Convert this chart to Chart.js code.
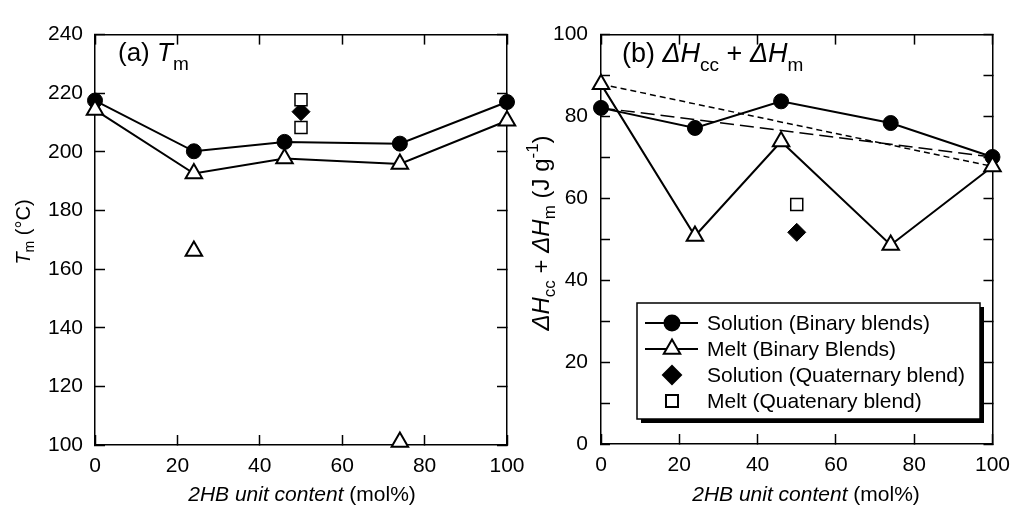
<!DOCTYPE html>
<html>
<head>
<meta charset="utf-8">
<script src="https://cdn.jsdelivr.net/npm/chart.js@4.4.0/dist/chart.umd.min.js"></script>
<style>
  body { margin: 0; background: #fff; }
  #wrap { position: relative; width: 1029px; height: 509px; overflow: hidden; }
  canvas { position: absolute; top: 0; }
</style>
</head>
<body>
<div id="wrap">
  <canvas id="tmChart" width="545" height="509" style="left:0"></canvas>
  <canvas id="dhChart" width="514" height="509" style="left:515px"></canvas>
</div>
<script>
// 2HB unit content (mol%)
const xContent = [0, 24, 46, 74, 100];
const quatX = [50];

// (a) Tm, degC
const tmSolution = [217.5, 200.2, 203.4, 202.8, 217.0];
const tmMelt = [214.3, 192.6, 197.7, 195.9, 210.6];
const tmMeltExtraX = [24, 74];
const tmMeltExtra = [166.2, 101.0];
const tmQuatSolution = [213.7];
const tmQuatMelt = [217.8, 208.3];

// (b) dHcc + dHm, J/g
const dhSolution = [82.1, 77.2, 83.7, 78.4, 70.1];
const dhMelt = [87.9, 50.8, 73.9, 48.6, 67.8];
const dhQuatSolution = [51.7];
const dhQuatMelt = [58.5];
const ruleX = [0, 100];
const dhMeltRule = [87.9, 67.8];
const dhSolutionRule = [82.1, 70.1];

const legendLabels = [
  "Solution (Binary blends)",
  "Melt (Binary Blends)",
  "Solution (Quaternary blend)",
  "Melt (Quatenary blend)"
];

const FONT = '"Liberation Sans", Arial, Helvetica, sans-serif';

function pts(xs, ys) {
  return ys.map((y, i) => ({ x: xs.length === 1 ? xs[0] : xs[i], y }));
}

// marker styles
const circle = { pointStyle: 'circle', pointRadius: 7.5, pointBackgroundColor: '#000', pointBorderColor: '#000', pointBorderWidth: 1 };
const triangle = { pointStyle: 'triangle', pointRadius: 9.5, pointBackgroundColor: '#fff', pointBorderColor: '#000', pointBorderWidth: 2 };
const diamond = { pointStyle: 'rectRot', pointRadius: 9, pointBackgroundColor: '#000', pointBorderColor: '#000', pointBorderWidth: 1 };
const square = { pointStyle: 'rect', pointRadius: 8.5, pointBackgroundColor: '#fff', pointBorderColor: '#000', pointBorderWidth: 1.5 };

function makeScales(yMin, yMax, yStep, yLabelEvery, tickLen, yWidth, xHeight) {
  const tickFont = { family: FONT, size: 21 };
  const border = { display: true, color: '#000', width: 1.5 };
  const grid = len => ({ drawOnChartArea: false, drawTicks: true, tickLength: -len, tickColor: '#000', tickWidth: 1.5 });
  return {
    x: {
      type: 'linear', position: 'bottom', min: 0, max: 100, border, grid: grid(10),
      ticks: { stepSize: 20, font: tickFont, color: '#000', padding: 19, maxRotation: 0, autoSkip: false },
      afterFit: s => { s.height = xHeight; }
    },
    x2: {
      type: 'linear', position: 'top', min: 0, max: 100, border, grid: grid(10),
      ticks: { stepSize: 20, display: false },
      afterFit: s => { s.height = 0; }
    },
    y: {
      type: 'linear', position: 'left', min: yMin, max: yMax, border, grid: grid(tickLen),
      ticks: {
        stepSize: yStep, font: tickFont, color: '#000', padding: 22, autoSkip: false,
        callback: v => (v % yLabelEvery === 0 ? v : '')
      },
      afterFit: s => { s.width = yWidth; }
    },
    y2: {
      type: 'linear', position: 'right', min: yMin, max: yMax, border, grid: grid(tickLen),
      ticks: { stepSize: yStep, display: false },
      afterFit: s => { s.width = 0; }
    }
  };
}

// draw a line of text with italic / sub / sup pieces
function drawRich(ctx, parts, x, y, size, opts = {}) {
  ctx.save();
  ctx.translate(x, y);
  if (opts.rotate) ctx.rotate(-Math.PI / 2);
  ctx.fillStyle = '#000';
  ctx.textBaseline = opts.baseline || 'middle';
  ctx.textAlign = 'left';
  const fontOf = p => `${p.i ? 'italic ' : ''}${p.sub || p.sup ? Math.round(size * 0.72) : size}px ${FONT}`;
  let total = 0;
  parts.forEach(p => {
    ctx.font = fontOf(p);
    p.w = ctx.measureText(p.t).width;
    total += p.w;
  });
  let cx = opts.align === 'left' ? 0 : -total / 2;
  parts.forEach(p => {
    ctx.font = fontOf(p);
    const dy = p.sub ? size * 0.33 : p.sup ? -size * 0.38 : 0;
    ctx.fillText(p.t, cx, dy);
    cx += p.w;
  });
  ctx.restore();
}

const tmText = {
  id: 'tmText',
  afterDraw(chart) {
    const ctx = chart.ctx;
    drawRich(ctx, [{ t: '(a) ' }, { t: 'T', i: true }, { t: 'm', sub: true }], 118, 61, 26, { align: 'left', baseline: 'alphabetic' });
    drawRich(ctx, [{ t: 'T', i: true }, { t: 'm', sub: true }, { t: ' (\u00b0C)' }], 24, 232, 20, { rotate: true });
    drawRich(ctx, [{ t: '2HB unit content', i: true }, { t: ' (mol%)' }], 302, 495, 21);
  }
};

const dhText = {
  id: 'dhText',
  afterDraw(chart) {
    const ctx = chart.ctx;
    drawRich(ctx, [{ t: '(b) ' }, { t: '\u0394H', i: true }, { t: 'cc', sub: true }, { t: ' + ' }, { t: '\u0394H', i: true }, { t: 'm', sub: true }],
      107, 62, 27, { align: 'left', baseline: 'alphabetic' });
    drawRich(ctx, [{ t: '\u0394H', i: true }, { t: 'cc', sub: true }, { t: ' + ' }, { t: '\u0394H', i: true }, { t: 'm', sub: true },
      { t: ' (J g' }, { t: '-1', sup: true }, { t: ')' }], 27, 233, 24, { rotate: true });
    drawRich(ctx, [{ t: '2HB unit content', i: true }, { t: ' (mol%)' }], 291, 495, 21);

    // legend box with drop shadow
    const bx = 122, by = 303, bw = 343, bh = 116;
    ctx.save();
    ctx.fillStyle = '#000';
    ctx.fillRect(bx + 4, by + 4, bw, bh);
    ctx.fillStyle = '#fff';
    ctx.fillRect(bx, by, bw, bh);
    ctx.lineWidth = 1.5;
    ctx.strokeStyle = '#000';
    ctx.strokeRect(bx, by, bw, bh);
    const styles = [circle, triangle, diamond, square];
    const hasLine = [true, true, false, false];
    styles.forEach((st, i) => {
      const ry = 323 + i * 26;
      if (hasLine[i]) {
        ctx.beginPath();
        ctx.lineWidth = 2;
        ctx.moveTo(130, ry);
        ctx.lineTo(183, ry);
        ctx.stroke();
      }
      ctx.fillStyle = st.pointBackgroundColor;
      ctx.strokeStyle = st.pointBorderColor;
      Chart.helpers.drawPoint(ctx, { pointStyle: st.pointStyle, radius: st.pointRadius, borderWidth: st.pointBorderWidth, rotation: 0 }, 157, ry);
      ctx.fillStyle = '#000';
      ctx.font = `21px ${FONT}`;
      ctx.textBaseline = 'middle';
      ctx.fillText(legendLabels[i], 192, ry + 1);
    });
    ctx.restore();
  }
};

const common = {
  responsive: false,
  animation: false,
  devicePixelRatio: 1,
  plugins: { legend: { display: false }, tooltip: { enabled: false } },
  elements: { line: { tension: 0 } }
};

new Chart(document.getElementById('tmChart'), {
  type: 'line',
  data: {
    datasets: [
      { label: legendLabels[3], data: pts(quatX, tmQuatMelt), showLine: false, clip: false, ...square },
      { label: legendLabels[2], data: pts(quatX, tmQuatSolution), showLine: false, clip: false, ...diamond },
      { label: 'Melt extra', data: pts(tmMeltExtraX, tmMeltExtra), showLine: false, clip: false, ...triangle },
      { label: legendLabels[1], data: pts(xContent, tmMelt), borderColor: '#000', borderWidth: 2, clip: false, ...triangle },
      { label: legendLabels[0], data: pts(xContent, tmSolution), borderColor: '#000', borderWidth: 2, clip: false, ...circle }
    ]
  },
  options: {
    ...common,
    layout: { padding: { left: 0, right: 38, top: 21, bottom: 0 } },
    scales: makeScales(100, 240, 20, 20, 10, 95, 64)
  },
  plugins: [tmText]
});

new Chart(document.getElementById('dhChart'), {
  type: 'line',
  data: {
    datasets: [
      { label: legendLabels[3], data: pts(quatX, dhQuatMelt), showLine: false, clip: false, ...square },
      { label: legendLabels[2], data: pts(quatX, dhQuatSolution), showLine: false, clip: false, ...diamond },
      { label: legendLabels[1], data: pts(xContent, dhMelt), borderColor: '#000', borderWidth: 2, clip: false, ...triangle },
      { label: legendLabels[0], data: pts(xContent, dhSolution), borderColor: '#000', borderWidth: 2, clip: false, ...circle },
      { label: 'Melt rule', data: pts(ruleX, dhMeltRule), borderColor: '#000', borderWidth: 1.5, borderDash: [6, 4], pointRadius: 0, clip: false },
      { label: 'Solution rule', data: pts(ruleX, dhSolutionRule), borderColor: '#000', borderWidth: 1.5, borderDash: [14, 6], pointRadius: 0, clip: false }
    ]
  },
  options: {
    ...common,
    layout: { padding: { left: 0, right: 20, top: 20, bottom: 0 } },
    scales: makeScales(0, 100, 10, 20, 9, 86, 65)
  },
  plugins: [dhText]
});
</script>
</body>
</html>
